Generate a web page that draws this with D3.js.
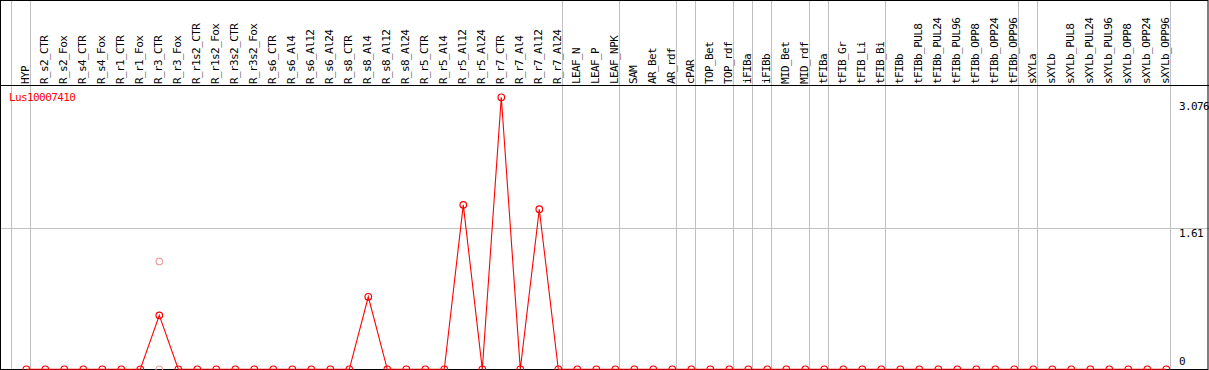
<!DOCTYPE html>
<html>
<head>
<meta charset="utf-8">
<script src="https://cdn.jsdelivr.net/npm/d3@7/dist/d3.min.js"></script>
<style>
  html, body { margin: 0; padding: 0; background: #fff; }
  svg { display: block; }
  text { font-family: "DejaVu Sans Mono", "Liberation Mono", monospace; font-size: 11px; letter-spacing: -0.6px; }
</style>
</head>
<body>
<svg id="chart" width="1209" height="370"></svg>
<script>
// ---- data ----
const categories = ["HYP","R_s2_CTR","R_s2_Fox","R_s4_CTR","R_s4_Fox","R_r1_CTR","R_r1_Fox","R_r3_CTR","R_r3_Fox",
  "R_r1s2_CTR","R_r1s2_Fox","R_r3s2_CTR","R_r3s2_Fox","R_s6_CTR","R_s6_Al4","R_s6_Al12","R_s6_Al24",
  "R_s8_CTR","R_s8_Al4","R_s8_Al12","R_s8_Al24","R_r5_CTR","R_r5_Al4","R_r5_Al12","R_r5_Al24",
  "R_r7_CTR","R_r7_Al4","R_r7_Al12","R_r7_Al24","LEAF_N","LEAF_P","LEAF_NPK","SAM","AR_Bet","AR_rdf",
  "cPAR","TOP_Bet","TOP_rdf","iFIBa","iFIBb","MID_Bet","MID_rdf","tFIBa","tFIB_Gr","tFIB_Li","tFIB_Bi",
  "tFIBb","tFIBb_PUL8","tFIBb_PUL24","tFIBb_PUL96","tFIBb_OPP8","tFIBb_OPP24","tFIBb_OPP96",
  "sXYLa","sXYLb","sXYLb_PUL8","sXYLb_PUL24","sXYLb_PUL96","sXYLb_OPP8","sXYLb_OPP24","sXYLb_OPP96"];
// mean expression per sample
const meanValues = [0,0,0,0,0,0,0,0.61,0,0,0,0,0,0,0,0,0,0,0.82,0,0,0,0,1.86,0,3.076,0,1.81,0,
  0,0,0,0,0,0,0,0,0,0,0,0,0,0,0,0,0,0,0,0,0,0,0,0,0,0,0,0,0,0,0,0];
// individual replicates that differ from the mean
const replicateCats = ["R_r3_CTR","R_r3_CTR"];
const replicateValues = [1.22, 0];
// last sample of each group (group separators)
const groupEnds = ["HYP","R_r7_Al24","LEAF_NPK","AR_rdf","cPAR","TOP_rdf","iFIBa","iFIBb","MID_rdf",
  "tFIBa","tFIB_Bi","tFIBb_OPP96","sXYLa","sXYLb_OPP96"];
const gene = "Lus10007410";
const tickValues = [3.076, 1.61, 0];
const tickLabels = ["3.076", "1.61", "0"];

// ---- drawing ----
const W = 1209, H = 370;
const svg = d3.select("#chart");
const x = d3.scalePoint().domain(categories).range([26.3, 26.3 + 19 * (categories.length - 1)]);
const y = d3.scaleLinear().domain([0, 3.076]).range([369.3, 97.3]);
const red = "#ff0000";

// separators
svg.append("line").attr("x1", Math.round(x(categories[0]) - 15) + 0.5).attr("x2", Math.round(x(categories[0]) - 15) + 0.5)
  .attr("y1", 0).attr("y2", H).attr("stroke", "#c0c0c0").attr("stroke-width", 1);
svg.selectAll("line.sep").data(groupEnds).enter().append("line").attr("class", "sep")
  .attr("x1", d => Math.round(x(d) + 4) + 0.5).attr("x2", d => Math.round(x(d) + 4) + 0.5)
  .attr("y1", 0).attr("y2", H).attr("stroke", "#c0c0c0").attr("stroke-width", 1);

// mid horizontal gridline
svg.append("line").attr("x1", 0).attr("x2", W)
  .attr("y1", Math.round(y(1.61)) + 1.5).attr("y2", Math.round(y(1.61)) + 1.5)
  .attr("stroke", "#c0c0c0").attr("stroke-width", 1);

// frame
svg.append("rect").attr("x", 0.5).attr("y", 0.5).attr("width", W - 1.5).attr("height", H - 1)
  .attr("fill", "none").attr("stroke", "#000");
svg.append("line").attr("x1", 0).attr("x2", W).attr("y1", 85.5).attr("y2", 85.5).attr("stroke", "#000");

// column labels
svg.selectAll("text.cat").data(categories).enter().append("text").attr("class", "cat")
  .attr("transform", d => `translate(${x(d) + 3},84) rotate(-90)`)
  .attr("text-anchor", "start").attr("fill", "#000").text(d => d);

// right axis labels
const offs = [13, 10, -4];
svg.selectAll("text.tick").data(tickValues).enter().append("text").attr("class", "tick")
  .attr("x", 1179).attr("y", (d, i) => y(d) + offs[i]).attr("fill", "#000")
  .text((d, i) => tickLabels[i]);

// gene label
svg.append("text").attr("x", 9).attr("y", 101).attr("fill", red).text(gene);

// replicate points (faded)
svg.selectAll("circle.rep").data(replicateValues).enter().append("circle").attr("class", "rep")
  .attr("cx", (d, i) => x(replicateCats[i])).attr("cy", d => y(d)).attr("r", 3.3)
  .attr("fill", "none").attr("stroke", "#f0a0a0").attr("stroke-width", 1.2);

// mean line
const line = d3.line().x((d, i) => x(categories[i])).y(d => y(d));
svg.append("path").datum(meanValues).attr("d", line).attr("fill", "none")
  .attr("stroke", red).attr("stroke-width", 1.1);
svg.selectAll("circle.pt").data(meanValues).enter().append("circle").attr("class", "pt")
  .attr("cx", (d, i) => x(categories[i])).attr("cy", d => y(d)).attr("r", 3.3)
  .attr("fill", "none").attr("stroke", red).attr("stroke-width", 1.2);
</script>
</body>
</html>
